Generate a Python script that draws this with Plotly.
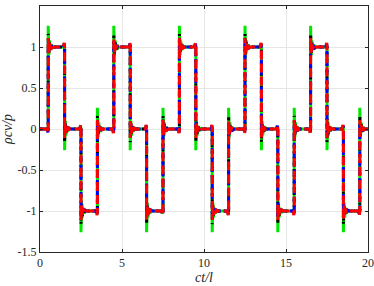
import plotly.graph_objects as go

# plateau levels between jumps and jump positions (ct/l)
levels = [0, 1, 0, -1, 0, 1, 0, -1, 0, 1, 0, -1, 0, 1, 0, -1, 0, 1, 0, -1, 0]
jump_times = [0.5, 1.5, 2.5, 3.5, 4.5, 5.5, 6.5, 7.5, 8.5, 9.5,
              10.5, 11.5, 12.5, 13.5, 14.5, 15.5, 16.5, 17.5, 18.5, 19.5]
t_start, t_end = 0, 20

# ringing: offsets after a jump (fraction of jump size)
ring_dt = [0.0, 0.04, 0.08, 0.13, 0.19, 0.26, 0.35]
pre_dt = [-0.08, -0.02]

series = {
    'green': dict(color='#00e600', dash='solid',
                  ring=[0.26, -0.10, 0.08, -0.04, 0.03, -0.01, 0.0], pre=[0.0, -0.03]),
    'black': dict(color='#000000', dash='2px,4px',
                  ring=[0.16, -0.08, 0.06, -0.03, 0.02, -0.01, 0.0], pre=[0.0, -0.04]),
    'blue': dict(color='#0000ff', dash='6px,3px',
                 ring=[0.07, -0.06, 0.04, -0.03, 0.02, -0.01, 0.0], pre=[0.0, -0.04]),
    'red': dict(color='#ff0000', dash='9px,4px',
                ring=[0.11, -0.07, 0.05, -0.03, 0.02, -0.01, 0.0], pre=[0.0, -0.05]),
}


def build(ring, pre):
    xs, ys = [t_start], [levels[0]]
    for j, tj in enumerate(jump_times):
        a, b = levels[j], levels[j + 1]
        d = b - a
        for dt, amp in zip(pre_dt, pre):
            xs.append(tj + dt)
            ys.append(a + amp * d)
        xs.append(tj)
        ys.append(a)
        for dt, amp in zip(ring_dt, ring):
            xs.append(tj + dt)
            ys.append(b + amp * d)
    xs.append(t_end)
    ys.append(levels[-1])
    return xs, ys


fig = go.Figure()
for name, s in series.items():
    xs, ys = build(s['ring'], s['pre'])
    fig.add_trace(go.Scatter(x=xs, y=ys, mode='lines', name=name,
                             line=dict(color=s['color'], width=3, dash=s['dash'])))

font = dict(family='Liberation Serif', size=12, color='#262626')
axis = dict(showline=True, linecolor='#262626', linewidth=1, mirror='ticks',
            ticks='inside', ticklen=3, tickcolor='#262626', automargin=False,
            showgrid=True, gridcolor='#e6e6e6', gridwidth=1, zeroline=False)

fig.update_xaxes(range=[0, 20], tickvals=[0, 5, 10, 15, 20],
                 title=dict(text='<i>ct/l</i>', standoff=2), **axis)
fig.update_yaxes(range=[-1.5, 1.5], tickvals=[-1.5, -1, -0.5, 0, 0.5, 1, 1.5],
                 ticktext=['-1.5', '-1', '-0.5', '0', '0.5', '1', '1.5'],
                 title=dict(text='<i>ρcv/p</i>', standoff=4), **axis)

fig.update_layout(width=374, height=286, showlegend=False, font=font,
                  plot_bgcolor='white', paper_bgcolor='white',
                  margin=dict(l=40, r=6, t=6, b=34, autoexpand=False))

fig.write_html("out.html", config={'displayModeBar': False},
               post_script="document.body.style.margin='0';document.body.style.overflow='hidden';")
